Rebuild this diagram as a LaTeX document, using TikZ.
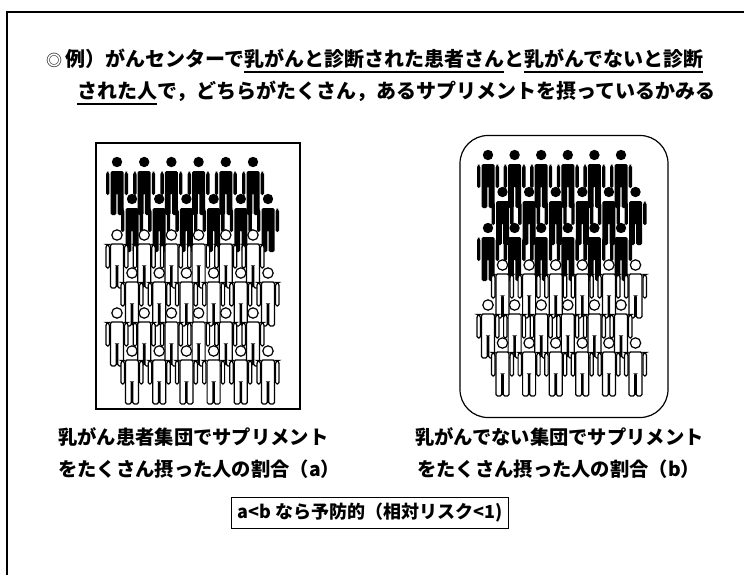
\documentclass[tikz,border=0pt]{standalone}
\usepackage{fontspec}
\setmainfont{Noto Sans CJK JP}
\newcommand\ulmark[1]{{\setbox0=\hbox{#1}\rlap{\rule[-5.8pt]{\wd0}{1.6pt}}\box0}}
\begin{document}
\begin{tikzpicture}[x=1pt,y=-1pt,
  titletext/.style={anchor=base west,inner sep=0pt,font=\fontsize{20}{20}\selectfont\bfseries},
  captext/.style={anchor=base west,inner sep=0pt,font=\fontsize{19.3}{19.3}\selectfont\bfseries},
  frameline/.style={line width=1.6pt},
  blackfig/.style={fill=black},
  openfig/.style={fill=white,draw=black,line width=1.2pt},
  person/.pic={
    \path[pic actions] (0,0) circle (5.2);
    \path[pic actions,rounded corners=1.5] (-6.5,9) -- (6.5,9) -- (6.5,53) -- (0.7,53)
      -- (0.7,31) -- (-0.7,31) -- (-0.7,53) -- (-6.5,53) -- cycle;
    \path[pic actions,rounded corners=1.5] (-7.6,9.5) -- (-7.6,33) -- (-11,33)
      -- (-11,13) [rounded corners=3] -- (-11,9.5) -- cycle;
    \path[pic actions,rounded corners=1.5] (7.6,9.5) -- (7.6,33) -- (11,33)
      -- (11,13) [rounded corners=3] -- (11,9.5) -- cycle;
  }]
\useasboundingbox (0,0) rectangle (744,575);
\fill[white] (0,0) rectangle (744,575);

% open frame: top and left edges only
\coordinate (ftl) at (7,12);
\coordinate (ftr) at (744,12);
\coordinate (fbl) at (7,575);
\draw[frameline] (ftr) -- (ftl) -- (fbl);

% heading
\node[inner sep=0pt,font=\fontsize{16}{16}\selectfont] (bullet) at (54,60) {◎};
\node[titletext] (title1) at (65,67)
  {例）がんセンターで\ulmark{乳がんと診断された患者さん}と\ulmark{乳がんでないと診断}};
\node[titletext] (title2) at (77,99)
  {\ulmark{された人}で，どちらがたくさん，あるサプリメントを摂っているかみる};

% panels
\node[draw,line width=1.2pt,minimum width=204pt,minimum height=266pt,inner sep=0pt]
  (leftbox) at (198,276) {};
\node[draw,line width=1.2pt,rounded corners=28pt,minimum width=208pt,minimum height=282pt,inner sep=0pt]
  (rightbox) at (564,276.5) {};

% population in the left panel: 2 rows of cases, 4 rows of others
\foreach \r/\yy in {1/162,2/199,3/235,4/273,5/313,6/351}{
  \pgfmathsetmacro\xoff{mod(\r+1,2)*15}
  \foreach \c in {0,...,5}{
    \ifnum\r<3
      \pic[blackfig] at ({117+\c*27.2+\xoff},\yy) {person};
    \else
      \pic[openfig] at ({117+\c*27.2+\xoff},\yy) {person};
    \fi
  }
}
% population in the right panel: 3 rows of cases, 3 rows of others
\foreach \r/\yy in {1/155,2/192,3/228,4/265,5/305,6/343}{
  \pgfmathsetmacro\xoff{mod(\r+1,2)*14.5}
  \foreach \c in {0,...,5}{
    \ifnum\r<4
      \pic[blackfig] at ({488+\c*26.6+\xoff},\yy) {person};
    \else
      \pic[openfig] at ({488+\c*26.6+\xoff},\yy) {person};
    \fi
  }
}

% captions
\node[captext] (capL1) at (58,444.5) {乳がん患者集団でサプリメント};
\node[captext] (capL2) at (58,476.5) {をたくさん摂った人の割合（a）};
\node[captext] (capR1) at (415,444.5) {乳がんでない集団でサプリメント};
\node[captext] (capR2) at (417,476.5) {をたくさん摂った人の割合（b）};

% conclusion
\node[draw,line width=1pt,inner xsep=6pt,inner ysep=6pt,
      font=\fontsize{18}{18}\selectfont\bfseries] (result) at (370,513)
  {a<b なら予防的（相対リスク<1)};
\end{tikzpicture}
\end{document}
